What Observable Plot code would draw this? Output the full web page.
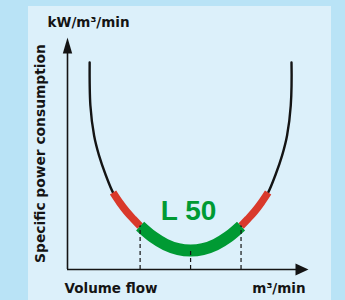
<!DOCTYPE html>
<html><head><meta charset="utf-8">
<script src="https://cdn.jsdelivr.net/npm/d3@7"></script>
<script src="https://cdn.jsdelivr.net/npm/@observablehq/plot@0.6"></script>
<style>
html,body{margin:0;padding:0;background:#b9e3f6;width:345px;height:300px;overflow:hidden}
#panel{position:absolute;left:28px;top:6px;width:303px;height:294px;background:#dcf0fa}
#chart{position:absolute;left:0;top:0}
</style></head><body>
<div id="panel"></div><div id="chart"></div>
<script>
// Curve (x: volume flow, y: specific power), arbitrary units
const flow  = [9, 9.3, 10.8, 12.8, 15.6, 18.5, 21.2, 24, 26.8, 29.5, 34.7, 39.8, 45, 50, 55, 60.2, 65.3, 70.5, 73.2, 76, 78.8, 81.5, 84.4, 87.2, 89.2, 90.7, 91];
const power = [89.6, 71, 58, 49.4, 40.7, 33.3, 29.0, 25.1, 21.8, 18.8, 14.1, 10.8, 8.8, 8.2, 8.8, 10.8, 14.1, 18.8, 21.8, 25.1, 29.0, 33.3, 40.7, 49.4, 58, 71, 89.6];
const redRanges = [[18.5, 29.5], [70.5, 81.5]];
const greenRange = [29.5, 70.5];
const markerFlows = [29.5, 50, 70.5];
const modelLabel = "L 50";
const yTitle = "Specific power consumption";
const yUnit = "kW/m³/min";
const xTitle = "Volume flow";
const xUnit = "m³/min";

const curve = flow.map((x, i) => ({x, y: power[i]}));
const inRange = (r) => curve.filter(d => d.x >= r[0] - 1e-9 && d.x <= r[1] + 1e-9);
const markers = markerFlows.map(x => curve.find(d => Math.abs(d.x - x) < 1e-9));

const arrowUp = {draw(ctx) { ctx.moveTo(0, 0); ctx.lineTo(4.7, 16); ctx.lineTo(-4.7, 16); ctx.closePath(); }};
const arrowRight = {draw(ctx) { ctx.moveTo(0, 0); ctx.lineTo(-13, -6); ctx.lineTo(-13, 6); ctx.closePath(); }};

const ink = "#141414";
const green = "#009a33";
const red = "#d9392b";
const font = {fontFamily: "DejaVu Sans", fontWeight: "bold", fontSize: 13.5, fill: ink};
const crv = "catmull-rom";

const chart = Plot.plot({
  width: 345, height: 300,
  marginLeft: 67, marginRight: 38, marginTop: 38, marginBottom: 31,
  x: {domain: [0, 97.5], axis: null},
  y: {domain: [0, 100], axis: null},
  style: {background: "transparent", overflow: "visible"},
  marks: [
    Plot.ruleX([0], {y1: 0, y2: 96, stroke: ink, strokeWidth: 1.6}),
    Plot.ruleY([0], {x1: 0, x2: 95, stroke: ink, strokeWidth: 1.6}),
    Plot.dot([{x: 0, y: 100.4}], {x: "x", y: "y", symbol: arrowUp, fill: ink, stroke: null}),
    Plot.dot([{x: 97.9, y: 0}], {x: "x", y: "y", symbol: arrowRight, fill: ink, stroke: null}),
    Plot.line(curve, {x: "x", y: "y", curve: crv, stroke: ink, strokeWidth: 2.4}),
    ...redRanges.map(r => Plot.line(inRange(r), {x: "x", y: "y", curve: crv, stroke: red, strokeWidth: 7.5, strokeLinecap: "butt"})),
    Plot.line(inRange(greenRange), {x: "x", y: "y", curve: crv, stroke: green, strokeWidth: 12, strokeLinecap: "butt"}),
    Plot.ruleX(markers, {x: "x", y1: 0, y2: "y", stroke: ink, strokeWidth: 1.2, strokeDasharray: "4,3"}),
    Plot.text([modelLabel], {x: 49.2, y: 21.6, text: d => d, fontFamily: "Liberation Sans", fontWeight: "bold", fontSize: 28, fill: green, lineAnchor: "bottom", textAnchor: "middle", style: {letterSpacing: "-1px"}}),
    Plot.text([yUnit], {x: -8.1, y: 104.8, text: d => d, ...font, textAnchor: "start", lineAnchor: "bottom"}),
    Plot.text([yTitle], {x: -9.1, y: 50.2, text: d => d, ...font, fontSize: 13.8, rotate: -90, textAnchor: "middle", lineAnchor: "bottom"}),
    Plot.text([xTitle], {x: -1.2, y: -10, text: d => d, ...font, textAnchor: "start", lineAnchor: "bottom"}),
    Plot.text([xUnit], {x: 96.7, y: -10, text: d => d, ...font, textAnchor: "end", lineAnchor: "bottom"})
  ]
});
document.getElementById("chart").appendChild(chart);
</script>
</body></html>
